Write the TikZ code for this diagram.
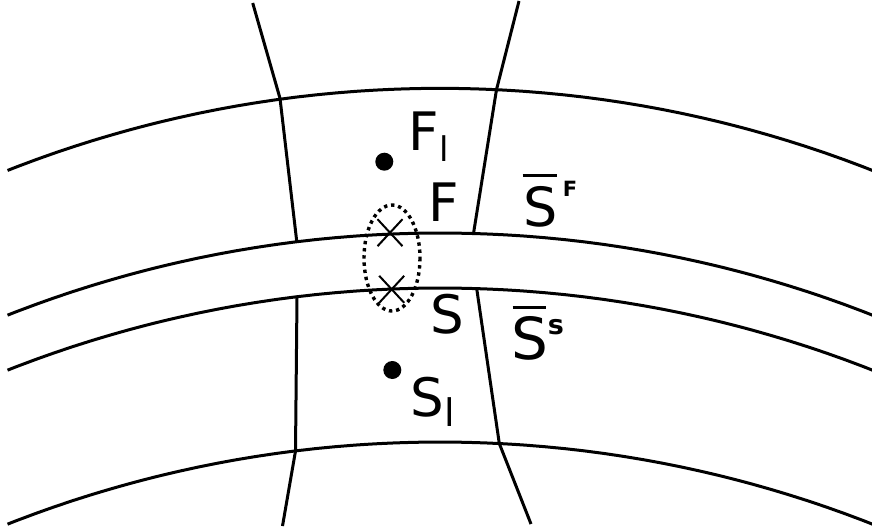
\documentclass[tikz,border=0pt]{standalone}
\usepackage{fontspec}
\setmainfont{DejaVu Sans}
\newcommand{\fsz}[1]{\fontsize{#1}{#1}\selectfont}
\begin{document}
\begin{tikzpicture}[x=1pt,y=-1pt,
  curve/.style={line width=3pt},
  seam/.style={line width=3pt},
  crossline/.style={line width=2pt},
  dotring/.style={line width=3.4pt, dash pattern=on 3.4pt off 3.8pt},
  blob/.style={fill=black},
  lbl/.style={inner sep=0pt, anchor=base},
  barline/.style={line width=3pt}]
\useasboundingbox (0,0) rectangle (872,530);

% four bent interfaces
\foreach \yy in {88.3,233,288,442}
  \draw[curve] plot[domain=-21.5:21.5, samples=90, smooth]
    ({440+1180*sin(\x)},{\yy+1180*(1-cos(\x))});

% cell edges
\draw[seam] (252.7,3) -- (280,98.3) -- (296.7,241);
\draw[seam] (297,297) -- (295.5,451) -- (282.5,526);
\draw[seam] (519,1) -- (496.5,89.6) -- (473.5,233.5);
\draw[seam] (476.7,288.6) -- (499.3,443.5) -- (531,524);

% dotted ellipse and crosses
\draw[dotring] (392,258) ellipse [x radius=28, y radius=53];
\draw[crossline] (377.5,219.2) -- (402.5,246.2) (377.5,246.2) -- (402.5,219.2);
\draw[crossline] (379.2,275.8) -- (404.2,302.8) (379.2,302.8) -- (404.2,275.8);

% cell centres
\fill[blob] (384.3,161.7) circle (9);
\fill[blob] (392.3,370) circle (9);

% labels
\node[lbl] (Fl) at (423.7,150) {\fsz{53}F};
\node[lbl] (Fls) at (443.9,161.7) {\fsz{34}l};
\node[lbl] (F) at (444,221.7) {\fsz{53}F};
\node[lbl] (S) at (447.5,333) {\fsz{53}S};
\node[lbl] (Sl) at (427.4,416) {\fsz{53}S};
\node[lbl] (Sls) at (449.3,426.7) {\fsz{38}l};
\node[lbl] (SbF) at (540.8,226) {\fsz{54}S};
\node[lbl] (SbFs) at (570,196.5) {\fsz{21}\bfseries F};
\draw[barline] (522.7,175) -- (557.3,175);
\node[lbl] (SbS) at (530,359) {\fsz{58}S};
\node[lbl] (SbSs) at (556,334) {\fsz{27}\bfseries s};
\draw[barline] (512.7,307.3) -- (546,307.3);
\end{tikzpicture}
\end{document}
